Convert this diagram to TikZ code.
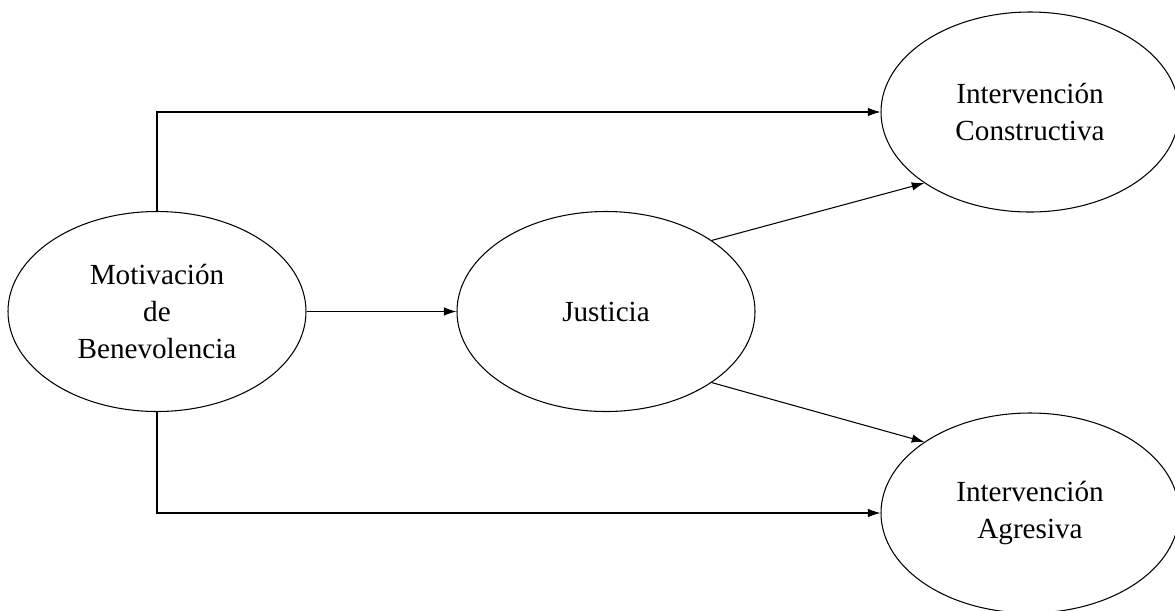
\documentclass[tikz,border=0pt]{standalone}
\usepackage{fontspec}
\setmainfont{Liberation Serif}
\usetikzlibrary{shapes.geometric,arrows.meta}
\begin{document}
\begin{tikzpicture}[
        elipse/.style={draw, ellipse, line width=0.6pt, minimum width=5.96cm, minimum height=4cm,
            inner sep=0pt, align=center, font=\fontsize{16.6}{20.8}\selectfont},
        flecha/.style={line width=0.6pt, -{Latex[length=2.5mm,width=1.7mm]}}
    ]
        % marco
        \useasboundingbox (0,0) rectangle (23.5,-12.2);

        % Elipses
        \node[elipse] (mot) at (3.14,-6.23) {Motivación\\de\\Benevolencia};
        \node[elipse] (jus) at (12.12,-6.23) {Justicia};
        \node[elipse] (con) at (20.6,-2.24) {Intervención\\Constructiva};
        \node[elipse] (agr) at (20.6,-10.26) {Intervención\\Agresiva};

        % Flechas
        \draw[flecha] (mot.north) |- (con.west);
        \draw[flecha] (mot.south) |- (agr.west);
        \draw[flecha] (mot.east) -- (jus.west);
        \foreach \a/\b in {north east/con.south west, south east/agr.north west}
        \draw[flecha] (jus.\a) -- (\b);
    \end{tikzpicture}
\end{document}
